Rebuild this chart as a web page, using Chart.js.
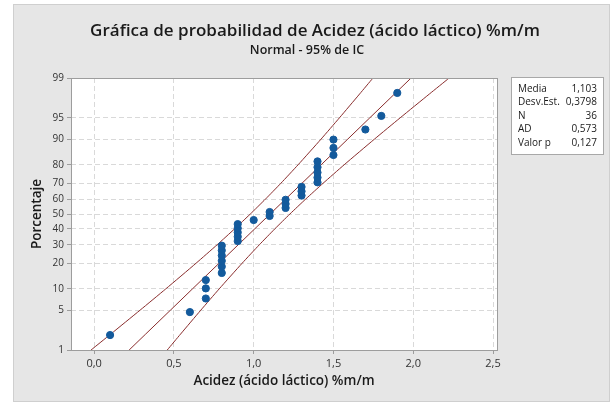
<!DOCTYPE html>
<html>
<head>
<meta charset="utf-8">
<script src="https://cdn.jsdelivr.net/npm/chart.js@4"></script>
<style>
  html, body { margin: 0; padding: 0; background: #ffffff; }
  #wrap { position: relative; width: 613px; height: 406px; }
</style>
</head>
<body>
<div id="wrap"><canvas id="probChart" width="613" height="406"></canvas></div>
<script>
// Observed values (sorted) and their plotted percentages
const acidez = [0.1, 0.6, 0.7, 0.7, 0.7, 0.8, 0.8, 0.8, 0.8, 0.8, 0.8,
  0.9, 0.9, 0.9, 0.9, 0.9, 1.0, 1.1, 1.1, 1.2, 1.2, 1.2, 1.3, 1.3, 1.3,
  1.4, 1.4, 1.4, 1.4, 1.4, 1.5, 1.5, 1.5, 1.7, 1.8, 1.9];
const porcentaje = [1.92, 4.67, 7.42, 10.16, 12.91, 15.66, 18.41, 21.15, 23.90,
  26.65, 29.40, 32.14, 34.89, 37.64, 40.38, 43.13, 45.88, 48.63, 51.37, 54.12,
  56.87, 59.62, 62.36, 65.11, 67.86, 70.60, 73.35, 76.10, 78.85, 81.59, 84.34,
  87.09, 89.84, 92.58, 95.33, 98.08];

// Fitted line and 95% confidence bands
const pctLinea = [1, 2, 5, 10, 20, 30, 40, 50, 60, 70, 80, 90, 95, 98, 99];
const ajuste = [0.2195, 0.3230, 0.4783, 0.6162, 0.7834, 0.9038, 1.0068, 1.1030,
  1.1992, 1.3022, 1.4226, 1.5898, 1.7277, 1.8830, 1.9865];
const limInf = [-0.0193, 0.1042, 0.2880, 0.4488, 0.6390, 0.7715, 0.8808, 0.9789,
  1.0732, 1.1699, 1.2782, 1.4224, 1.5374, 1.6642, 1.7477];
const limSup = [0.4583, 0.5418, 0.6686, 0.7836, 0.9278, 1.0361, 1.1328, 1.2271,
  1.3252, 1.4345, 1.5670, 1.7572, 1.9180, 2.1018, 2.2253];

const yTicks = [1, 5, 10, 20, 30, 40, 50, 60, 70, 80, 90, 95, 99];
const xTicks = [0, 0.5, 1.0, 1.5, 2.0, 2.5];

const statLabels = ["Media", "Desv.Est.", "N", "AD", "Valor p"];
const statValues = ["1,103", "0,3798", "36", "0,573", "0,127"];

const FONT = "'Open Sans', 'Noto Sans', sans-serif";
const LINE_COLOR = "#8a2d2d";
const DOT_COLOR = "#135a9c";

// inverse standard normal (Acklam)
function normInv(p) {
  const a = [-39.69683028665376, 220.9460984245205, -275.9285104469687, 138.3577518672690, -30.66479806614716, 2.506628277459239];
  const b = [-54.47609879822406, 161.5858368580409, -155.6989798598866, 66.80131188771972, -13.28068155288572];
  const c = [-0.007784894002430293, -0.3223964580411365, -2.400758277161838, -2.549732539343734, 4.374664141464968, 2.938163982698783];
  const d = [0.007784695709041462, 0.3224671290700398, 2.445134137142996, 3.754408661907416];
  const pl = 0.02425;
  let q, r;
  if (p < pl) {
    q = Math.sqrt(-2 * Math.log(p));
    return (((((c[0]*q+c[1])*q+c[2])*q+c[3])*q+c[4])*q+c[5]) / ((((d[0]*q+d[1])*q+d[2])*q+d[3])*q+1);
  }
  if (p > 1 - pl) {
    q = Math.sqrt(-2 * Math.log(1 - p));
    return -(((((c[0]*q+c[1])*q+c[2])*q+c[3])*q+c[4])*q+c[5]) / ((((d[0]*q+d[1])*q+d[2])*q+d[3])*q+1);
  }
  q = p - 0.5; r = q * q;
  return (((((a[0]*r+a[1])*r+a[2])*r+a[3])*r+a[4])*r+a[5])*q / (((((b[0]*r+b[1])*r+b[2])*r+b[3])*r+b[4])*r+1);
}
const zOf = pct => normInv(pct / 100);

const puntos = acidez.map((v, i) => ({ x: v, y: zOf(porcentaje[i]) }));
const lineaPts = arr => arr.map((v, i) => ({ x: v, y: zOf(pctLinea[i]) }));

const panelPlugin = {
  id: "panel",
  beforeDraw(chart) {
    const ctx = chart.ctx;
    const a = chart.chartArea;
    ctx.save();
    ctx.fillStyle = "#ffffff";
    ctx.fillRect(0, 0, chart.width, chart.height);
    ctx.fillStyle = "#e6e6e6";
    ctx.fillRect(13, 4, 597, 398);
    ctx.strokeStyle = "#cfcfcf";
    ctx.lineWidth = 1;
    ctx.strokeRect(13.5, 4.5, 596, 397);
    ctx.fillStyle = "#ffffff";
    ctx.fillRect(a.left, a.top, a.right - a.left, a.bottom - a.top);
    ctx.restore();
  },
  afterDraw(chart) {
    const ctx = chart.ctx;
    const a = chart.chartArea;
    ctx.save();
    // plot frame
    ctx.strokeStyle = "#9d9d9d";
    ctx.lineWidth = 1;
    ctx.strokeRect(Math.round(a.left) + 0.5, Math.round(a.top) + 0.5,
      Math.round(a.right - a.left), Math.round(a.bottom - a.top));
    // titles
    ctx.fillStyle = "#1a1a1a";
    ctx.textAlign = "center";
    ctx.textBaseline = "middle";
    ctx.font = "600 17px " + FONT;
    ctx.fillText("Gráfica de probabilidad de Acidez (ácido láctico) %m/m", 315, 31);
    ctx.font = "600 12.5px " + FONT;
    ctx.fillText("Normal - 95% de IC", 307, 50);
    // stats box
    ctx.fillStyle = "#ffffff";
    ctx.fillRect(511, 77, 92, 77);
    ctx.strokeStyle = "#a8a8a8";
    ctx.strokeRect(511.5, 77.5, 92, 77);
    ctx.fillStyle = "#1a1a1a";
    ctx.font = "10px " + FONT;
    statLabels.forEach((lab, i) => {
      const y = 89 + i * 13.5;
      ctx.textAlign = "left";
      ctx.fillText(lab, 518, y);
      ctx.textAlign = "right";
      ctx.fillText(statValues[i], 597, y);
    });
    ctx.restore();
  }
};

const gridOpts = {
  color: "#d9d9d9",
  tickLength: 4,
  tickColor: "#9d9d9d",
  tickBorderDash: [],
  tickBorderDashOffset: 0
};

new Chart(document.getElementById("probChart").getContext("2d"), {
  type: "scatter",
  data: {
    datasets: [
      {
        label: "Datos",
        data: puntos,
        backgroundColor: DOT_COLOR,
        borderColor: DOT_COLOR,
        pointRadius: 3.6,
        order: 0
      },
      {
        label: "Ajuste",
        data: lineaPts(ajuste),
        showLine: true,
        borderColor: LINE_COLOR,
        borderWidth: 1,
        pointRadius: 0,
        order: 1
      },
      {
        label: "IC inferior",
        data: lineaPts(limInf),
        showLine: true,
        borderColor: LINE_COLOR,
        borderWidth: 1,
        pointRadius: 0,
        tension: 0.2,
        order: 1
      },
      {
        label: "IC superior",
        data: lineaPts(limSup),
        showLine: true,
        borderColor: LINE_COLOR,
        borderWidth: 1,
        pointRadius: 0,
        tension: 0.2,
        order: 1
      }
    ]
  },
  options: {
    responsive: false,
    animation: false,
    layout: { padding: { left: 29, right: 116, top: 78, bottom: 0 } },
    plugins: {
      legend: { display: false },
      tooltip: { enabled: false }
    },
    scales: {
      x: {
        type: "linear",
        min: -0.145,
        max: 2.525,
        afterFit: scale => { scale.height = 56; },
        afterBuildTicks: scale => { scale.ticks = xTicks.map(v => ({ value: v })); },
        grid: gridOpts,
        border: { display: false, dash: [5, 3] },
        ticks: {
          color: "#333333",
          padding: 3,
          font: { family: FONT, size: 11 },
          callback: v => v.toFixed(1).replace(".", ",")
        },
        title: {
          display: true,
          text: "Acidez (ácido láctico) %m/m",
          color: "#1a1a1a",
          font: { family: FONT, size: 13.5, weight: "600" },
          padding: { top: 0, bottom: 17 }
        }
      },
      y: {
        type: "linear",
        min: zOf(1),
        max: zOf(99),
        afterFit: scale => { scale.width = 42; },
        afterBuildTicks: scale => { scale.ticks = yTicks.map(p => ({ value: zOf(p) })); },
        grid: gridOpts,
        border: { display: false, dash: [5, 3] },
        ticks: {
          color: "#333333",
          padding: 3,
          font: { family: FONT, size: 10 },
          callback: function(v, i) { return String(yTicks[i]); }
        },
        title: {
          display: true,
          text: "Porcentaje",
          color: "#1a1a1a",
          font: { family: FONT, size: 13.5, weight: "600" },
          padding: { top: 0, bottom: 0 }
        }
      }
    }
  },
  plugins: [panelPlugin]
});
</script>
</body>
</html>
